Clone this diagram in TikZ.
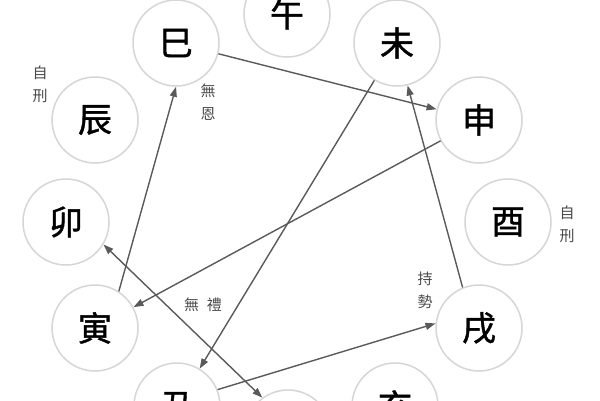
\documentclass[tikz,border=0pt]{standalone}
\usepackage{fontspec}
\newfontfamily\cjk{Noto Sans CJK TC}
\newfontfamily\cjkb[FakeBold=1.2]{Noto Sans CJK TC}
\usetikzlibrary{arrows.meta}
\definecolor{ringgray}{HTML}{D6D6D6}
\definecolor{linegray}{HTML}{5A5A5A}
\definecolor{labelgray}{HTML}{4A4A4A}
\tikzset{
  branch/.style={circle, draw=ringgray, line width=1.5pt, minimum size=86pt, inner sep=0pt, text=black, font=\cjkb\fontsize{34}{34}\selectfont},
  arr/.style={draw=linegray, line width=1.4pt, -{Triangle[length=10pt,width=7pt]}, color=linegray},
  darr/.style={draw=linegray, line width=1.4pt, {Triangle[length=10pt,width=7pt]}-{Triangle[length=10pt,width=7pt]}, color=linegray},
  lbl/.style={text=labelgray, font=\cjk\fontsize{15}{23}\selectfont, align=center, inner sep=0pt}
}
\begin{document}
\begin{tikzpicture}[x=1pt,y=-1pt]
\useasboundingbox[fill=white] (0,0) rectangle (600,400);
\node[branch] (wu) at (287,14) {午};
\node[branch] (si) at (176,43) {巳};
\node[branch] (wei) at (397,43) {未};
\node[branch] (chen) at (95,120) {辰};
\node[branch] (shen) at (479,120) {申};
\node[branch] (mao) at (66,222) {卯};
\node[branch] (you) at (508,222) {酉};
\node[branch] (yin) at (95,328) {寅};
\node[branch] (xu) at (479,328) {戌};
\node[branch] (chou) at (177,406) {丑};
\node[branch] (hai) at (395,406) {亥};
\node[branch] (zi) at (288,433) {子};

\draw[arr] (si) -- (shen);
\draw[arr] (wei) -- (chou);
\draw[arr] (shen) -- (yin);
\draw[arr] (yin.57) -- (si.-90);
\draw[arr] (xu.112) -- (wei.-76);
\draw[arr] (chou.22) -- (xu.174);
\draw[darr] (mao.-31) -- (zi.126);

\node[lbl] (zixing1) at (40,84) {自\\刑};
\node[lbl] (wuen) at (208,102) {無\\恩};
\node[lbl] (zixing2) at (567,224) {自\\刑};
\node[lbl] (chishi) at (425,290) {持\\勢};
\node[lbl] (wuli) at (203,305) {無\hspace{8pt}禮};
\end{tikzpicture}
\end{document}
